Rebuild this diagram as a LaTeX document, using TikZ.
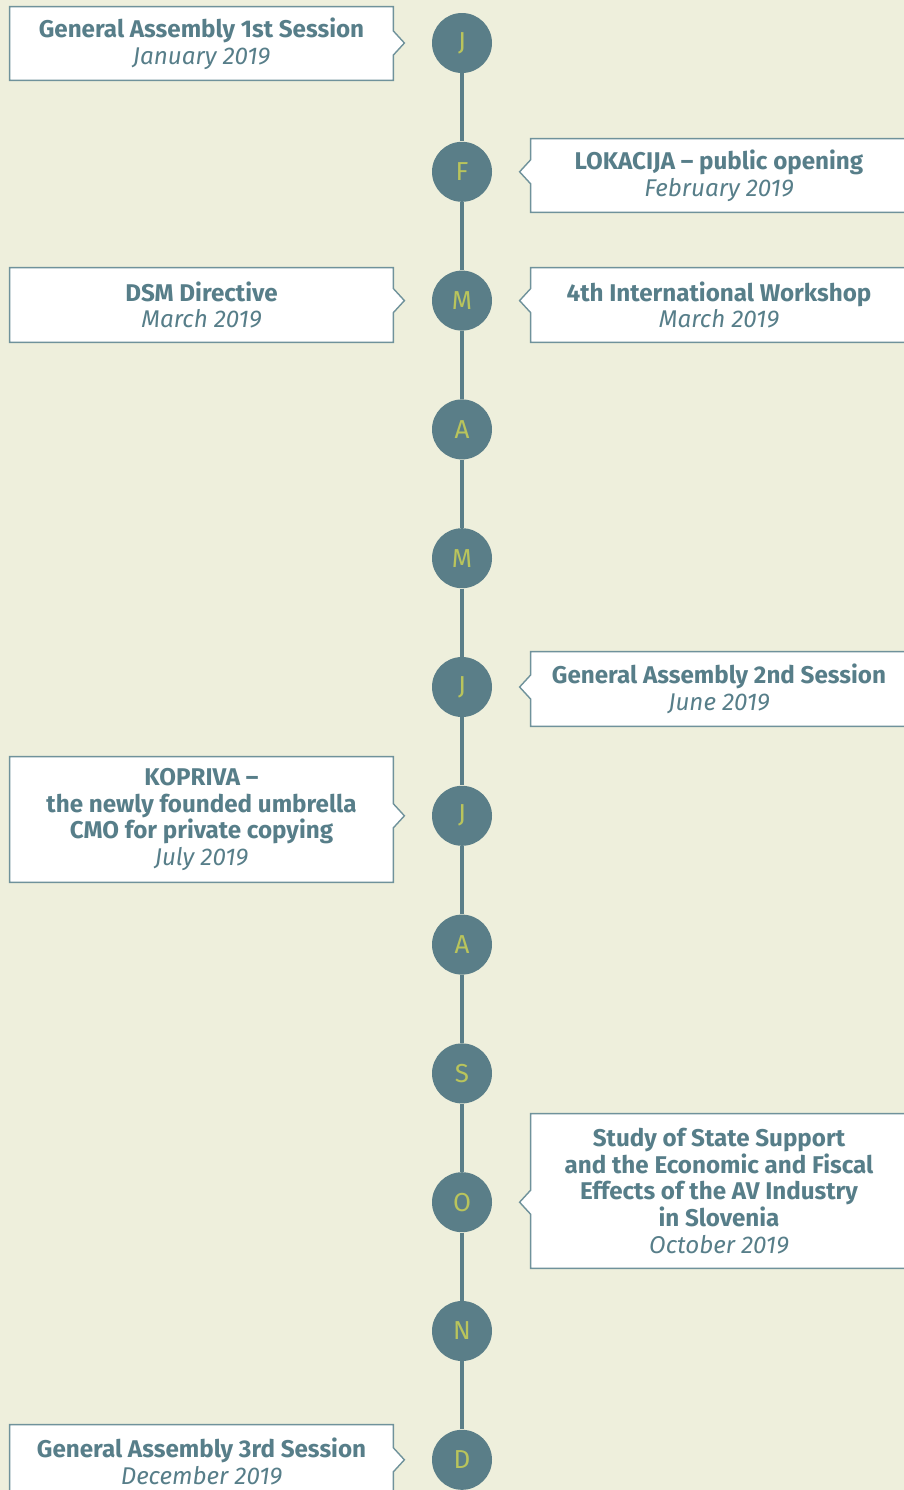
\documentclass[tikz,border=0pt]{standalone}
\usepackage{fontspec}
\setmainfont{Fira Sans}
\usetikzlibrary{calc,positioning}
\definecolor{TLBack}{HTML}{EEEFDC}
\definecolor{TLInk}{HTML}{577E89}
\definecolor{TLDot}{HTML}{5A7E88}
\definecolor{TLLime}{HTML}{B9C45C}
\definecolor{TLFrame}{HTML}{6F929B}
\pgfdeclarelayer{back}\pgfdeclarelayer{cards}
\pgfsetlayers{back,cards,main}
\newcommand{\tldate}[1]{{\mdseries\itshape #1}}

\begin{document}
\begin{tikzpicture}[x=0.5pt,y=-0.5pt,
    mo/.style={circle,fill=TLDot,minimum size=30pt,inner sep=0pt,text=TLLime,font=\fontsize{13}{15}\selectfont},
    spine/.style={line width=2pt,color=TLDot},
    card/.style={text=TLInk,align=center,inner sep=0pt,minimum height=#1,font=\fontsize{12.1}{13.4}\selectfont\bfseries},
    lcard/.style={card=#1,minimum width=191.5pt},
    rcard/.style={card=#1,minimum width=188pt},
    frame/.style={draw=TLFrame,fill=white,line width=0.7pt}]
  \useasboundingbox (0,0) rectangle (904,1490);
  \begin{pgfonlayer}{back}
    \fill[TLBack] (0,0) rectangle (904,1490);
  \end{pgfonlayer}
  % months
  \foreach \l [count=\i from 1] in {J,F,M,A,M,J,J,A,S,O,N,D}
    \node[mo] (m\i) at (462,{43+(\i-1)*128.8}) {\l};
  \foreach \i [count=\j from 2] in {1,...,11}
    \draw[spine] (m\i) -- (m\j);
  % events, left side
  \node[lcard=36.5pt] (ga1) at (201.5,43.5) {General Assembly 1st Session\\\tldate{January 2019}};
  \node[lcard=37pt] (dsm) at (201.5,305) {DSM Directive\\\tldate{March 2019}};
  \node[lcard=62.5pt] (kop) at (201.5,819.5) {KOPRIVA --\\the newly founded umbrella\\CMO for private copying\\\tldate{July 2019}};
  \node[lcard=36.5pt] (ga3) at (201.5,1461.5) {General Assembly 3rd Session\\\tldate{December 2019}};
  % events, right side
  \node[rcard=36.5pt] (lok) at (719,175.5) {LOKACIJA -- public opening\\\tldate{February 2019}};
  \node[rcard=37pt] (iws) at (719,305) {4th International Workshop\\\tldate{March 2019}};
  \node[rcard=37pt] (ga2) at (719,689) {General Assembly 2nd Session\\\tldate{June 2019}};
  \node[rcard=77pt] (avs) at (719,1191) {Study of State Support\\and the Economic and Fiscal\\Effects of the AV Industry\\in Slovenia\\\tldate{October 2019}};
  \begin{pgfonlayer}{cards}
    \foreach \bx/\dt in {ga1/m1,dsm/m3,kop/m7,ga3/m12}
      \draw[frame] (\bx.north west) -- (\bx.north east) -- ($(\bx.east|-\dt)+(0,-12)$) -- ($(\bx.east|-\dt)+(11,0)$)
        -- ($(\bx.east|-\dt)+(0,12)$) -- (\bx.south east) -- (\bx.south west) -- cycle;
    \foreach \bx/\dt in {lok/m2,iws/m3,ga2/m6,avs/m10}
      \draw[frame] (\bx.north east) -- (\bx.north west) -- ($(\bx.west|-\dt)+(0,-12)$) -- ($(\bx.west|-\dt)+(-11,0)$)
        -- ($(\bx.west|-\dt)+(0,12)$) -- (\bx.south west) -- (\bx.south east) -- cycle;
  \end{pgfonlayer}
\end{tikzpicture}
\end{document}
